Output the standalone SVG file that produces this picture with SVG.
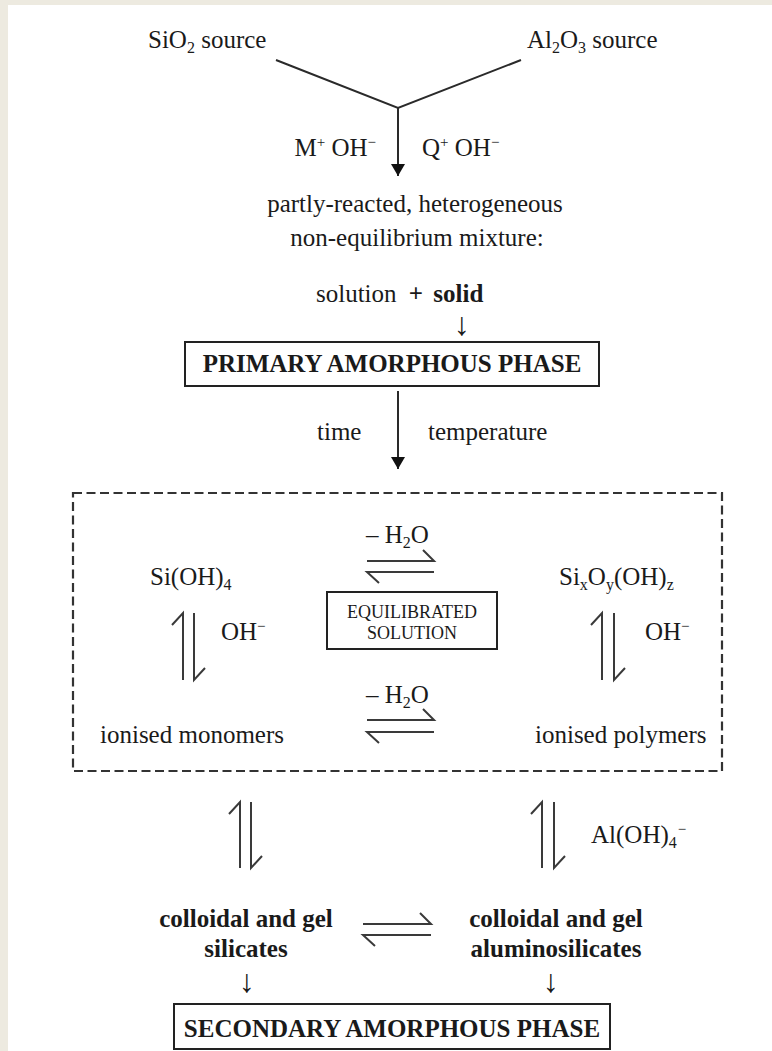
<svg xmlns="http://www.w3.org/2000/svg" width="772" height="1051" viewBox="0 0 772 1051">
<style>
text{font-family:"Liberation Serif","Times New Roman",serif;font-size:25px;fill:#1a1a1a}
.b{font-weight:bold}
.sm{font-size:18px}
.sub{font-size:16px;baseline-shift:-5px}
.sup{font-size:15px;baseline-shift:9px}
.ln{stroke:#2a2a2a;stroke-width:2;fill:none}
.eq{stroke:#3a3a3a;stroke-width:2;fill:none;stroke-linecap:butt}
.box{fill:none;stroke:#222;stroke-width:2}
.dash{fill:none;stroke:#333;stroke-width:2.2;stroke-dasharray:9 4.5}
.arr{font-family:"Liberation Serif","Times New Roman",serif;font-size:32px;fill:#1a1a1a}
</style>
<defs>
<marker id="ah" viewBox="0 0 12 14" refX="12" refY="7" markerWidth="12" markerHeight="14" markerUnits="userSpaceOnUse" orient="auto">
<path d="M0,0 L12,7 L0,14 z" fill="#111"/>
</marker>
</defs>
<rect x="0" y="0" width="772" height="1051" fill="#EDEAE0"/>
<rect x="8" y="5" width="764" height="1046" fill="#ffffff"/>

<g id="connectors">
<path class="ln" d="M276,60 L398,108 L521,60"/>
<line class="ln" x1="398" y1="108" x2="398" y2="176" marker-end="url(#ah)"/>
<line class="ln" x1="398" y1="391" x2="398" y2="469" marker-end="url(#ah)"/>
<path class="eq" d="M367,561 H434 L423,550"/>
<path class="eq" d="M434,572 H367 L379,583"/>
<path class="eq" d="M183,680 V613 L172,625"/>
<path class="eq" d="M194,613 V680 L205,668"/>
<path class="eq" d="M602,680 V613 L591,625"/>
<path class="eq" d="M614,613 V680 L625,668"/>
<path class="eq" d="M367,720 H434 L423,709"/>
<path class="eq" d="M434,732 H367 L379,743"/>
<path class="eq" d="M240,868 V802 L229,814"/>
<path class="eq" d="M251,802 V868 L262,856"/>
<path class="eq" d="M542,868 V802 L531,814"/>
<path class="eq" d="M554,802 V868 L565,856"/>
<path class="eq" d="M363,924 H431 L420,913"/>
<path class="eq" d="M431,935 H363 L375,946"/>
<text class="arr" x="462" y="335" text-anchor="middle">↓</text>
<text class="arr" x="247" y="992" text-anchor="middle">↓</text>
<text class="arr" x="551" y="992" text-anchor="middle">↓</text>
</g>

<g id="sio2">
<text x="148" y="48">SiO<tspan class="sub">2</tspan> source</text>
</g>
<g id="al2o3">
<text x="527" y="48">Al<tspan class="sub">2</tspan>O<tspan class="sub">3</tspan> source</text>
</g>
<g id="reagents">
<text x="376" y="156" text-anchor="end">M<tspan class="sup">+</tspan> OH<tspan class="sup">−</tspan></text>
<text x="422" y="156">Q<tspan class="sup">+</tspan> OH<tspan class="sup">−</tspan></text>
</g>
<g id="mixture">
<text x="415" y="212" text-anchor="middle">partly-reacted, heterogeneous</text>
<text x="417" y="246" text-anchor="middle">non-equilibrium mixture:</text>
<text x="316" y="302">solution <tspan class="b" dx="6">+</tspan> <tspan class="b" dx="4">solid</tspan></text>
</g>
<g id="primary">
<rect class="box" x="185" y="342" width="414" height="44"/>
<text class="b" x="392" y="372" text-anchor="middle">PRIMARY AMORPHOUS PHASE</text>
</g>
<g id="conditions">
<text x="317" y="440">time</text>
<text x="428" y="440">temperature</text>
</g>
<g id="equilibrium-region">
<rect class="dash" x="73" y="493" width="649" height="278"/>
</g>
<g id="h2o-top"><text x="366" y="543">– H<tspan class="sub">2</tspan>O</text></g>
<g id="sioh4"><text x="150" y="585">Si(OH)<tspan class="sub">4</tspan></text></g>
<g id="sixoy"><text x="559" y="585">Si<tspan class="sub">x</tspan>O<tspan class="sub">y</tspan>(OH)<tspan class="sub">z</tspan></text></g>
<g id="equilibrated">
<rect class="box" x="327" y="592" width="170" height="57"/>
<text class="sm" x="412" y="618" text-anchor="middle">EQUILIBRATED</text>
<text class="sm" x="412" y="639" text-anchor="middle">SOLUTION</text>
</g>
<g id="oh-left"><text x="221" y="640">OH<tspan class="sup">−</tspan></text></g>
<g id="oh-right"><text x="645" y="640">OH<tspan class="sup">−</tspan></text></g>
<g id="h2o-bottom"><text x="366" y="703">– H<tspan class="sub">2</tspan>O</text></g>
<g id="monomers"><text x="100" y="743">ionised monomers</text></g>
<g id="polymers"><text x="535" y="743">ionised polymers</text></g>
<g id="aloh4"><text x="591" y="843">Al(OH)<tspan class="sub">4</tspan><tspan class="sup" dx="1">−</tspan></text></g>
<g id="silicates">
<text class="b" x="246" y="927" text-anchor="middle">colloidal and gel</text>
<text class="b" x="246" y="957" text-anchor="middle">silicates</text>
</g>
<g id="aluminosilicates">
<text class="b" x="556" y="927" text-anchor="middle">colloidal and gel</text>
<text class="b" x="556" y="957" text-anchor="middle">aluminosilicates</text>
</g>
<g id="secondary">
<rect class="box" x="174" y="1004" width="436" height="45"/>
<text class="b" x="392" y="1037" text-anchor="middle">SECONDARY AMORPHOUS PHASE</text>
</g>
</svg>
